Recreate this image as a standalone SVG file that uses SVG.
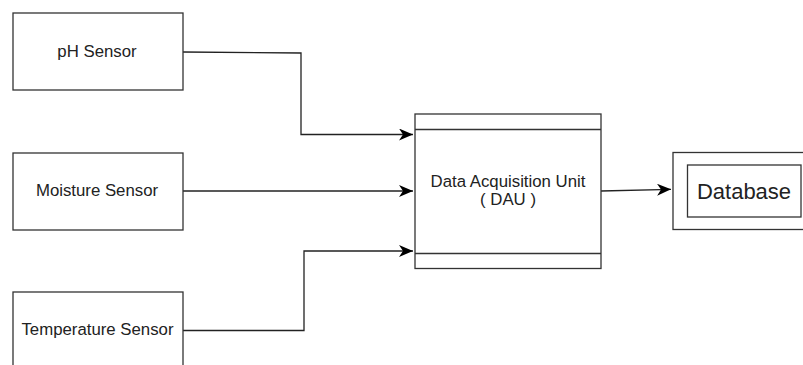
<svg xmlns="http://www.w3.org/2000/svg" width="803" height="365" viewBox="0 0 803 365">
<defs>
<marker id="arr" markerWidth="16" markerHeight="13" refX="14" refY="6" orient="auto" markerUnits="userSpaceOnUse">
<path d="M0,0 L14,6 L0,12 L4,6 z" fill="#000"/>
</marker>
<style>
.box{fill:#fff;stroke:#333;stroke-width:1.3}
.lbl{font-family:"Liberation Sans",Arial,sans-serif;font-size:16.8px;fill:#222;text-anchor:middle}
.edge{fill:none;stroke:#222;stroke-width:1.3;marker-end:url(#arr)}
</style>
</defs>
<rect width="803" height="365" fill="#fff"/>
<g id="connectors">
<path class="edge" d="M183,52 L301,53 L301,134.5 L413,134.5"/>
<path class="edge" d="M183,191 L413,191"/>
<path class="edge" d="M183,330.5 L304,330.5 L304,251 L413,251"/>
<path class="edge" d="M601,191 L671,189.3"/>
</g>
<g id="ph">
<rect class="box" x="13" y="13" width="170" height="77"/>
<text class="lbl" x="97" y="57">pH Sensor</text>
</g>
<g id="moisture">
<rect class="box" x="13" y="153" width="170" height="77"/>
<text class="lbl" x="97" y="196">Moisture Sensor</text>
</g>
<g id="temperature">
<rect class="box" x="13" y="292" width="170" height="80"/>
<text class="lbl" x="97.5" y="335">Temperature Sensor</text>
</g>
<g id="dau">
<rect class="box" x="415" y="114" width="186" height="154.5"/>
<line x1="415" y1="129.5" x2="601" y2="129.5" stroke="#333" stroke-width="1.3"/>
<line x1="415" y1="253.5" x2="601" y2="253.5" stroke="#333" stroke-width="1.3"/>
<text class="lbl" x="508" y="187">Data Acquisition Unit</text>
<text class="lbl" x="508" y="205">( DAU )</text>
</g>
<g id="database">
<rect class="box" x="673" y="152.5" width="140" height="77"/>
<rect class="box" x="687.5" y="165" width="113.5" height="52"/>
<text class="lbl" x="744" y="198.5" style="font-size:22px">Database</text>
</g>
</svg>
